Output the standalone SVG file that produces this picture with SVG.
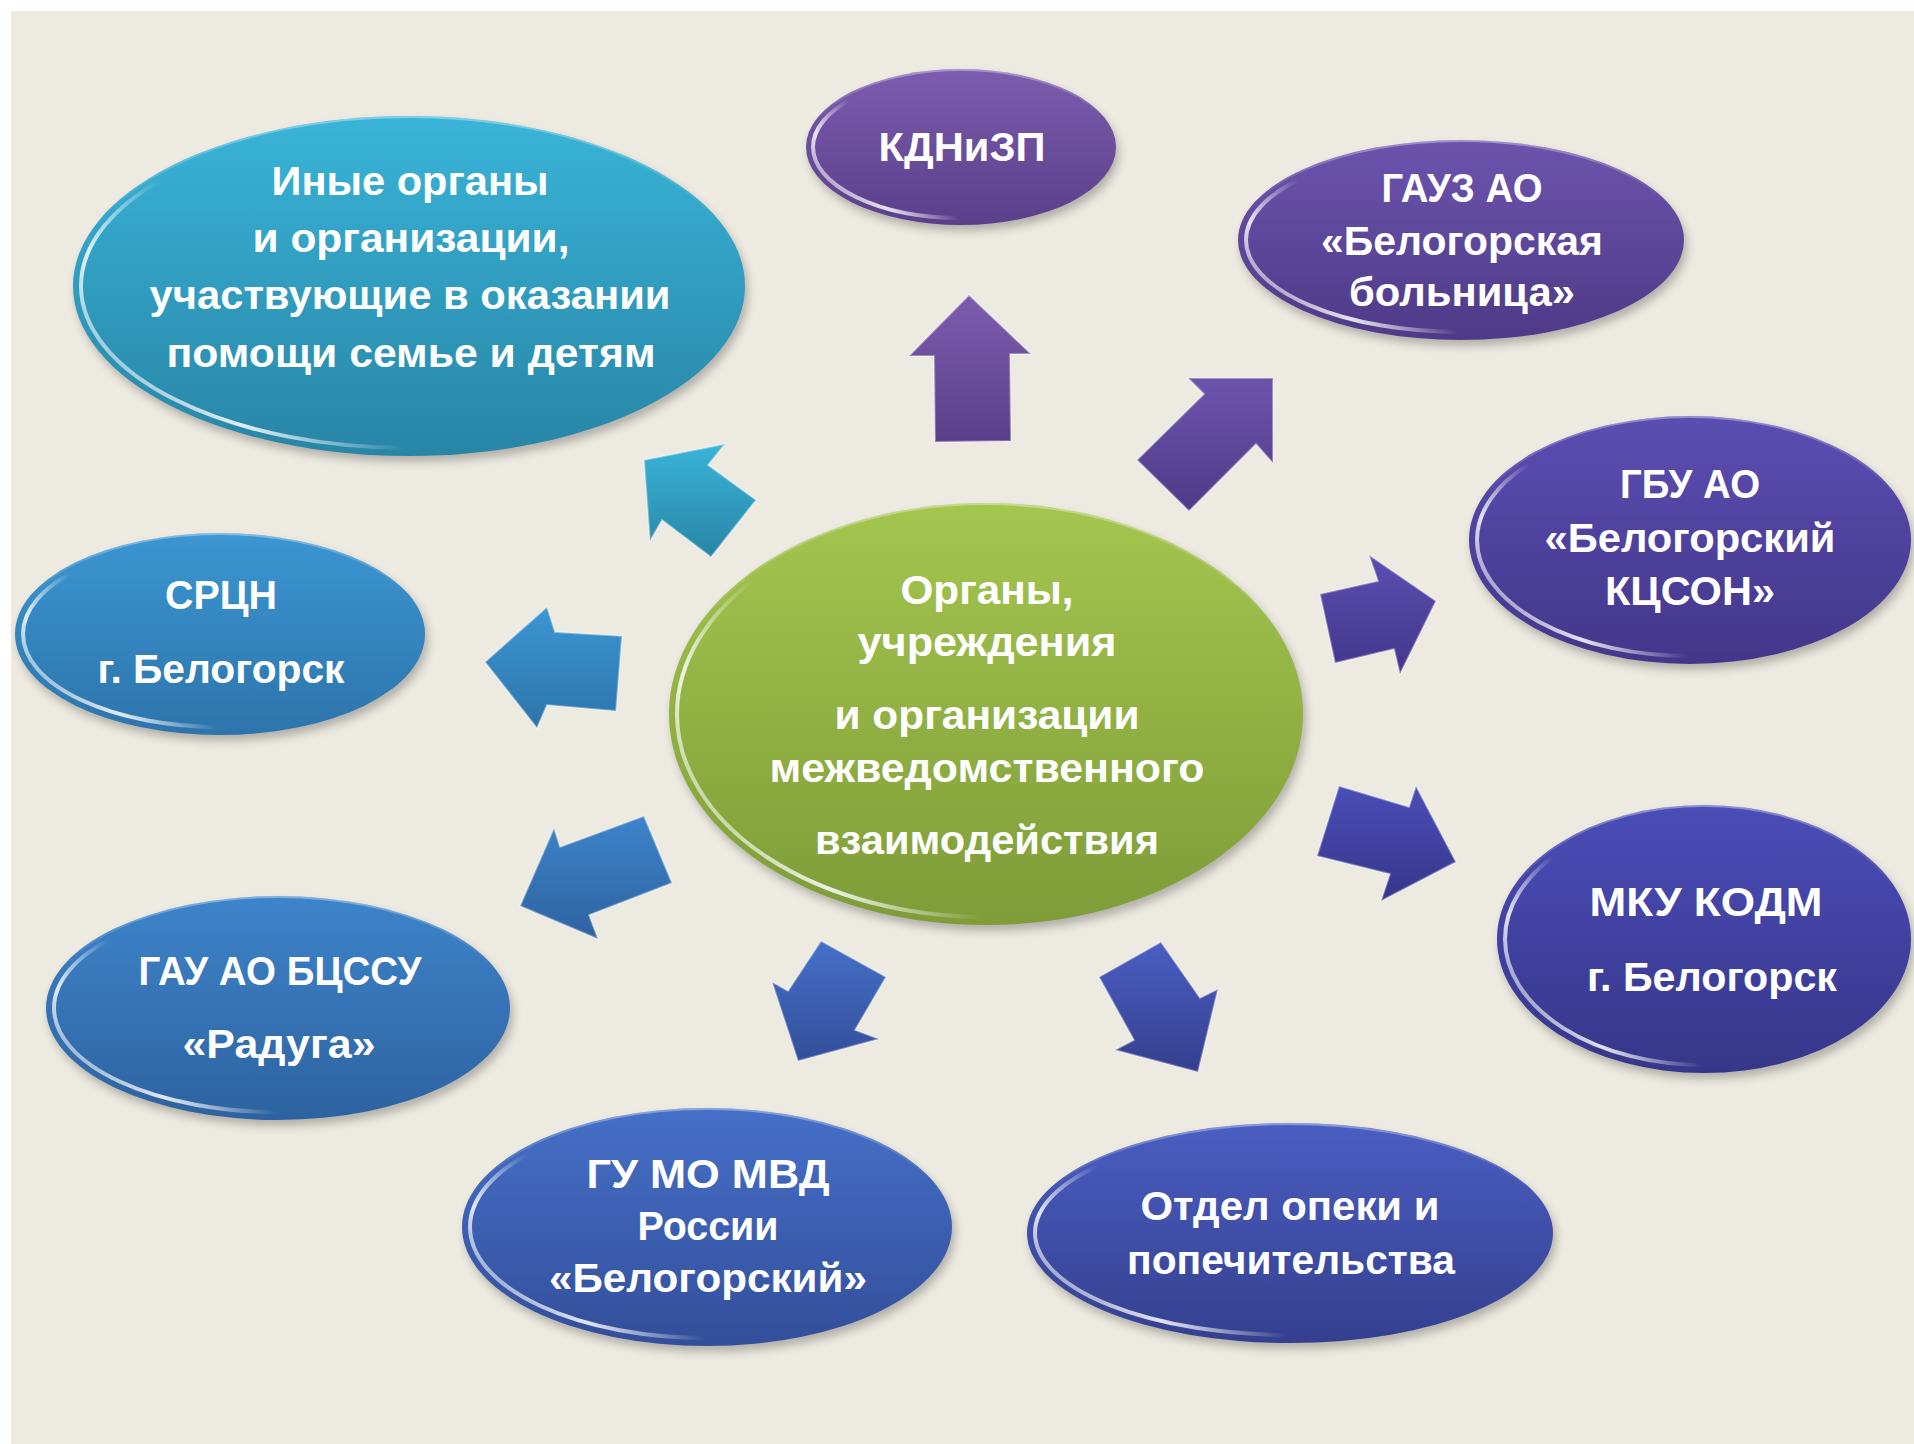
<svg xmlns="http://www.w3.org/2000/svg" width="1914" height="1444" viewBox="0 0 1914 1444">
<defs>
<style>
.t{font-family:"Liberation Sans",Arial,sans-serif;font-weight:bold;font-size:40px;fill:#ffffff;text-anchor:middle}
.sh{fill:#000;opacity:0.25;filter:url(#blur)}
.hl{fill:none;stroke:url(#hlg);stroke-width:4}
.rim{fill:none;stroke:url(#rimg);stroke-width:2}
.ar{stroke:#ffffff;stroke-opacity:0.35;stroke-width:2;stroke-linejoin:miter}
</style>
<filter id="blur" x="-20%" y="-20%" width="140%" height="140%"><feGaussianBlur stdDeviation="5"/></filter>
<linearGradient id="hlg" x1="1" y1="0.2" x2="0" y2="0.65"><stop offset="0" stop-color="#fff" stop-opacity="0"/><stop offset="0.72" stop-color="#fff" stop-opacity="0"/><stop offset="0.9" stop-color="#fff" stop-opacity="0.85"/><stop offset="1" stop-color="#fff" stop-opacity="0.5"/></linearGradient>
<linearGradient id="rimg" x1="0" y1="0" x2="0" y2="1"><stop offset="0" stop-color="#fff" stop-opacity="0.35"/><stop offset="0.3" stop-color="#fff" stop-opacity="0"/><stop offset="1" stop-color="#fff" stop-opacity="0"/></linearGradient>
<linearGradient id="gTeal" x1="0" y1="0" x2="0" y2="1"><stop offset="0" stop-color="#39B4D8"/><stop offset="1" stop-color="#2885A6"/></linearGradient>
<linearGradient id="gSky" x1="0" y1="0" x2="0" y2="1"><stop offset="0" stop-color="#3B96D2"/><stop offset="1" stop-color="#2D74AB"/></linearGradient>
<linearGradient id="gBlue1" x1="0" y1="0" x2="0" y2="1"><stop offset="0" stop-color="#3D84CA"/><stop offset="1" stop-color="#2E62A0"/></linearGradient>
<linearGradient id="gBlue2" x1="0" y1="0" x2="0" y2="1"><stop offset="0" stop-color="#4570C8"/><stop offset="1" stop-color="#334E9A"/></linearGradient>
<linearGradient id="gBlue3" x1="0" y1="0" x2="0" y2="1"><stop offset="0" stop-color="#4A5EC2"/><stop offset="1" stop-color="#343F8E"/></linearGradient>
<linearGradient id="gInd" x1="0" y1="0" x2="0" y2="1"><stop offset="0" stop-color="#4B4DB8"/><stop offset="1" stop-color="#363689"/></linearGradient>
<linearGradient id="gVio1" x1="0" y1="0" x2="0" y2="1"><stop offset="0" stop-color="#5B4EB2"/><stop offset="1" stop-color="#43368A"/></linearGradient>
<linearGradient id="gVio2" x1="0" y1="0" x2="0" y2="1"><stop offset="0" stop-color="#6C54AD"/><stop offset="1" stop-color="#4E3A87"/></linearGradient>
<linearGradient id="gVio3" x1="0" y1="0" x2="0" y2="1"><stop offset="0" stop-color="#7C5CAE"/><stop offset="1" stop-color="#5A3F8A"/></linearGradient>
<linearGradient id="gGreen" x1="0" y1="0" x2="0" y2="1"><stop offset="0" stop-color="#A4C64F"/><stop offset="1" stop-color="#7E9C38"/></linearGradient>
</defs>
<rect x="0" y="0" width="1914" height="1444" fill="#ffffff"/>
<rect x="11" y="11" width="1903" height="1433" fill="#EDEBE1"/>

<g id="connectors">
<polygon class="ar" fill="url(#gVio3)" points="969,295 1031,354 1010,354 1011,441 935,442 934,356 909,356"/>
<polygon class="ar" fill="url(#gVio2)" points="1188,378 1273,378 1273,463 1256,444 1189,511 1137,460 1204,394"/>
<polygon class="ar" fill="url(#gVio1)" points="1320,594 1378,581 1369,555 1436,601 1400,674 1394,649 1335,663"/>
<polygon class="ar" fill="url(#gInd)" points="1339,786 1409,807 1416,786 1456,862 1381,901 1390,874 1317,856"/>
<polygon class="ar" fill="url(#gBlue3)" points="1099,977 1161,942 1200,998 1218,989 1198,1072 1115,1050 1134,1040"/>
<polygon class="ar" fill="url(#gBlue2)" points="821,941 886,977 855,1030 879,1039 798,1061 772,982 788,991"/>
<polygon class="ar" fill="url(#gBlue1)" points="644,816 672,883 589,915 598,939 520,906 554,828 560,847"/>
<polygon class="ar" fill="url(#gSky)" points="622,636 616,711 547,705 537,728 485,662 547,607 555,632"/>
<polygon class="ar" fill="url(#gTeal)" points="644,460 725,444 708,465 756,500 711,557 662,520 650,541"/>
</g>

<g id="node-center">
<ellipse class="sh" cx="989" cy="720" rx="317" ry="211"/>
<ellipse cx="986" cy="714" rx="317" ry="211" fill="url(#gGreen)"/>
<ellipse class="rim" cx="986" cy="714" rx="316" ry="210"/>
<ellipse class="hl" cx="986" cy="714" rx="309" ry="203"/>
<text class="t" x="987" y="604" textLength="173" lengthAdjust="spacingAndGlyphs">Органы,</text>
<text class="t" x="987" y="656" textLength="259" lengthAdjust="spacingAndGlyphs">учреждения</text>
<text class="t" x="987" y="729" textLength="305" lengthAdjust="spacingAndGlyphs">и организации</text>
<text class="t" x="987" y="782" textLength="435" lengthAdjust="spacingAndGlyphs">межведомственного</text>
<text class="t" x="987" y="854" textLength="344" lengthAdjust="spacingAndGlyphs">взаимодействия</text>
</g>

<g id="node-inye">
<ellipse class="sh" cx="412" cy="292" rx="336" ry="170"/>
<ellipse cx="409" cy="286" rx="336" ry="170" fill="url(#gTeal)"/>
<ellipse class="rim" cx="409" cy="286" rx="335" ry="169"/>
<ellipse class="hl" cx="409" cy="286" rx="328" ry="162"/>
<text class="t" x="410" y="195" textLength="277" lengthAdjust="spacingAndGlyphs">Иные органы</text>
<text class="t" x="411" y="252" textLength="317" lengthAdjust="spacingAndGlyphs">и организации,</text>
<text class="t" x="410" y="309" textLength="521" lengthAdjust="spacingAndGlyphs">участвующие в оказании</text>
<text class="t" x="411" y="367" textLength="489" lengthAdjust="spacingAndGlyphs">помощи семье и детям</text>
</g>

<g id="node-kdn">
<ellipse class="sh" cx="964" cy="153" rx="155" ry="78"/>
<ellipse cx="961" cy="147" rx="155" ry="78" fill="url(#gVio3)"/>
<ellipse class="rim" cx="961" cy="147" rx="154" ry="77"/>
<ellipse class="hl" cx="961" cy="147" rx="148" ry="71"/>
<text class="t" x="962" y="161" textLength="167" lengthAdjust="spacingAndGlyphs">КДНиЗП</text>
</g>

<g id="node-gauz">
<ellipse class="sh" cx="1464" cy="246" rx="223" ry="100"/>
<ellipse cx="1461" cy="240" rx="223" ry="100" fill="url(#gVio2)"/>
<ellipse class="rim" cx="1461" cy="240" rx="222" ry="99"/>
<ellipse class="hl" cx="1461" cy="240" rx="215" ry="92"/>
<text class="t" x="1462" y="202" textLength="161" lengthAdjust="spacingAndGlyphs">ГАУЗ АО</text>
<text class="t" x="1462" y="255" textLength="282" lengthAdjust="spacingAndGlyphs">«Белогорская</text>
<text class="t" x="1462" y="306" textLength="226" lengthAdjust="spacingAndGlyphs">больница»</text>
</g>

<g id="node-gbu">
<ellipse class="sh" cx="1693" cy="546" rx="221" ry="124"/>
<ellipse cx="1690" cy="540" rx="221" ry="124" fill="url(#gVio1)"/>
<ellipse class="rim" cx="1690" cy="540" rx="220" ry="123"/>
<ellipse class="hl" cx="1690" cy="540" rx="213" ry="116"/>
<text class="t" x="1690" y="498" textLength="140" lengthAdjust="spacingAndGlyphs">ГБУ АО</text>
<text class="t" x="1690" y="552" textLength="291" lengthAdjust="spacingAndGlyphs">«Белогорский</text>
<text class="t" x="1690" y="605" textLength="170" lengthAdjust="spacingAndGlyphs">КЦСОН»</text>
</g>

<g id="node-mku">
<ellipse class="sh" cx="1707" cy="945" rx="207" ry="134"/>
<ellipse cx="1704" cy="939" rx="207" ry="134" fill="url(#gInd)"/>
<ellipse class="rim" cx="1704" cy="939" rx="206" ry="133"/>
<ellipse class="hl" cx="1704" cy="939" rx="199" ry="126"/>
<text class="t" x="1706" y="916" textLength="233" lengthAdjust="spacingAndGlyphs">МКУ КОДМ</text>
<text class="t" x="1712" y="991" textLength="250" lengthAdjust="spacingAndGlyphs">г. Белогорск</text>
</g>

<g id="node-opeka">
<ellipse class="sh" cx="1293" cy="1239" rx="263" ry="110"/>
<ellipse cx="1290" cy="1233" rx="263" ry="110" fill="url(#gBlue3)"/>
<ellipse class="rim" cx="1290" cy="1233" rx="262" ry="109"/>
<ellipse class="hl" cx="1290" cy="1233" rx="255" ry="102"/>
<text class="t" x="1290" y="1220" textLength="299" lengthAdjust="spacingAndGlyphs">Отдел опеки и</text>
<text class="t" x="1291" y="1274" textLength="328" lengthAdjust="spacingAndGlyphs">попечительства</text>
</g>

<g id="node-mvd">
<ellipse class="sh" cx="710" cy="1233" rx="245" ry="119"/>
<ellipse cx="707" cy="1227" rx="245" ry="119" fill="url(#gBlue2)"/>
<ellipse class="rim" cx="707" cy="1227" rx="244" ry="118"/>
<ellipse class="hl" cx="707" cy="1227" rx="237" ry="111"/>
<text class="t" x="708" y="1188" textLength="243" lengthAdjust="spacingAndGlyphs">ГУ МО МВД</text>
<text class="t" x="708" y="1240" textLength="141" lengthAdjust="spacingAndGlyphs">России</text>
<text class="t" x="708" y="1292" textLength="318" lengthAdjust="spacingAndGlyphs">«Белогорский»</text>
</g>

<g id="node-gau">
<ellipse class="sh" cx="281" cy="1014" rx="232" ry="112"/>
<ellipse cx="278" cy="1008" rx="232" ry="112" fill="url(#gBlue1)"/>
<ellipse class="rim" cx="278" cy="1008" rx="231" ry="111"/>
<ellipse class="hl" cx="278" cy="1008" rx="224" ry="104"/>
<text class="t" x="280" y="985" textLength="283" lengthAdjust="spacingAndGlyphs">ГАУ АО БЦССУ</text>
<text class="t" x="279" y="1058" textLength="193" lengthAdjust="spacingAndGlyphs">«Радуга»</text>
</g>

<g id="node-srcn">
<ellipse class="sh" cx="223" cy="640" rx="205" ry="101"/>
<ellipse cx="220" cy="634" rx="205" ry="101" fill="url(#gSky)"/>
<ellipse class="rim" cx="220" cy="634" rx="204" ry="100"/>
<ellipse class="hl" cx="220" cy="634" rx="197" ry="93"/>
<text class="t" x="221" y="609" textLength="112" lengthAdjust="spacingAndGlyphs">СРЦН</text>
<text class="t" x="221" y="683" textLength="247" lengthAdjust="spacingAndGlyphs">г. Белогорск</text>
</g>
</svg>
